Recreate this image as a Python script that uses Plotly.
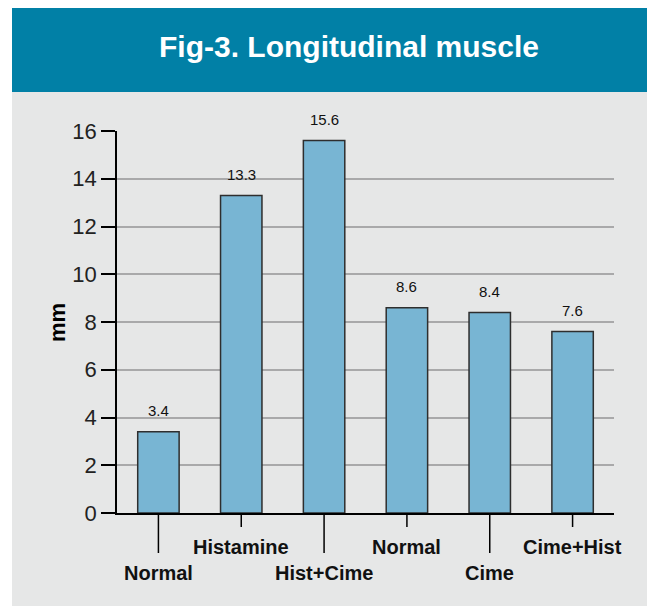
import plotly.graph_objects as go

categories = ["Normal", "Histamine", "Hist+Cime", "Normal", "Cime", "Cime+Hist"]
values = [3.4, 13.3, 15.6, 8.6, 8.4, 7.6]
y_ticks = [0, 2, 4, 6, 8, 10, 12, 14, 16]
title_text = "Fig-3. Longitudinal muscle"
y_title = "mm"

OFF = 8  # page body margin
W, H = 655 - OFF, 606 - OFF
L, R, T, B = 117 - OFF, 41, 131 - OFF, 93
pw, ph = W - L - R, H - T - B

def px_x(px):  # page pixel -> paper
    return (px - OFF - L) / pw

def px_y(py):
    return (H - B - (py - OFF)) / ph

FONT = "Liberation Sans, Arial, sans-serif"
BG = "#e6e7e7"
TEAL = "#0180a6"

xs = list(range(len(categories)))

fig = go.Figure()
fig.add_trace(go.Bar(
    x=xs, y=values, width=0.5,
    marker=dict(color="#78b5d3", line=dict(color="#2e2e2e", width=1.5)),
    hoverinfo="skip",
))

shapes = []
# white left strip
shapes.append(dict(type="rect", xref="paper", yref="paper", x0=px_x(0), x1=px_x(12),
                   y0=px_y(H + 20), y1=px_y(-5), fillcolor="white", line=dict(width=0), layer="below"))
# teal band
shapes.append(dict(type="rect", xref="paper", yref="paper", x0=px_x(12), x1=px_x(700),
                   y0=px_y(92), y1=px_y(0), fillcolor=TEAL, line=dict(width=0), layer="below"))
# staggered x ticks
for i in xs:
    ln = 40 if i % 2 == 0 else 14
    shapes.append(dict(type="line", xref="x", yref="paper", x0=i, x1=i,
                       y0=0, y1=-ln / ph, line=dict(color="black", width=1.5)))

annotations = []
annotations.append(dict(text="<b>" + title_text + "</b>", xref="paper", yref="paper",
                        x=px_x(349), y=px_y(46), xanchor="center", yanchor="middle",
                        showarrow=False, font=dict(family=FONT, size=30, color="white")))
annotations.append(dict(text="<b>" + y_title + "</b>", xref="paper", yref="paper",
                        x=px_x(57), y=px_y(323), xanchor="center", yanchor="middle",
                        textangle=-90, showarrow=False,
                        font=dict(family=FONT, size=22, color="black")))
for i, (c, v) in enumerate(zip(categories, values)):
    annotations.append(dict(text=f"{v}", x=i, y=v, xref="x", yref="y",
                            yanchor="middle", yshift=21, showarrow=False,
                            font=dict(family=FONT, size=15, color="#111")))
    ly = 573 if i % 2 == 0 else 547
    annotations.append(dict(text="<b>" + c + "</b>", x=i, xref="x", yref="paper",
                            y=px_y(ly), yanchor="middle", xanchor="center", showarrow=False,
                            font=dict(family=FONT, size=20, color="#111")))

fig.update_layout(
    width=W, height=H,
    margin=dict(l=L, r=R, t=T, b=B, pad=0),
    paper_bgcolor=BG, plot_bgcolor=BG,
    showlegend=False,
    shapes=shapes, annotations=annotations,
    font=dict(family=FONT),
    xaxis=dict(range=[-0.5, len(categories) - 0.5], showticklabels=False, showgrid=False,
               zeroline=False, showline=True, linecolor="black", linewidth=1.5, ticks=""),
    yaxis=dict(range=[0, 16], tickvals=y_ticks, showgrid=True, gridcolor="#a9a9aa", gridwidth=2,
               zeroline=False, showline=True, linecolor="black", linewidth=1.5,
               ticks="outside", ticklen=14, tickcolor="black", tickwidth=1.5,
               tickfont=dict(family=FONT, size=22, color="#222")),
)

fig.write_html("out.html")
